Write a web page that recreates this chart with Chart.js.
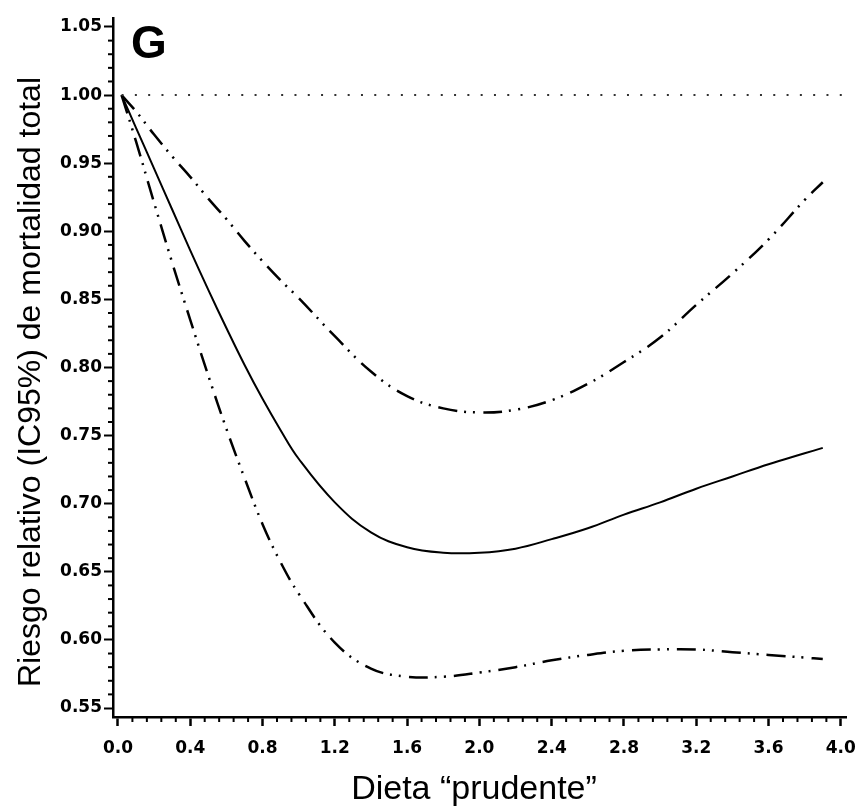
<!DOCTYPE html>
<html>
<head>
<meta charset="utf-8">
<script src="https://cdn.jsdelivr.net/npm/chart.js@4.4.0/dist/chart.umd.min.js"></script>
<style>
  html, body { margin: 0; padding: 0; background: #fff; }
</style>
</head>
<body>
<canvas id="chart" width="868" height="808"></canvas>
<script>
// valores
const dieta = [0.02, 0.1, 0.2, 0.3, 0.4, 0.5, 0.6, 0.7, 0.8, 0.9, 1.0, 1.2, 1.4, 1.6, 1.8,
               2.0, 2.2, 2.4, 2.6, 2.8, 3.0, 3.2, 3.4, 3.6, 3.8, 3.9];
const riesgo = [1.000, 0.976, 0.946, 0.916, 0.886, 0.857, 0.829, 0.802, 0.777, 0.754, 0.733,
                0.701, 0.679, 0.668, 0.664, 0.664, 0.667, 0.674, 0.682, 0.692, 0.701,
                0.711, 0.720, 0.729, 0.737, 0.741];
const icSuperior = [1.000, 0.988, 0.971, 0.955, 0.940, 0.924, 0.909, 0.893, 0.878, 0.864, 0.851,
                    0.823, 0.797, 0.779, 0.770, 0.767, 0.769, 0.776, 0.788, 0.804, 0.822,
                    0.846, 0.869, 0.894, 0.923, 0.936];
const icInferior = [1.000, 0.966, 0.921, 0.877, 0.835, 0.794, 0.755, 0.719, 0.685, 0.657, 0.634,
                    0.598, 0.579, 0.573, 0.573, 0.576, 0.580, 0.585, 0.589, 0.592, 0.593,
                    0.593, 0.591, 0.589, 0.587, 0.586];
const referenciaX = [0.02, 4.02];
const referenciaY = [1.0, 1.0];

const xTicks = [0.0, 0.4, 0.8, 1.2, 1.6, 2.0, 2.4, 2.8, 3.2, 3.6, 4.0];
const yTicks = [0.55, 0.60, 0.65, 0.70, 0.75, 0.80, 0.85, 0.90, 0.95, 1.00, 1.05];
const xMinorStep = 0.08;
const yMinorStep = 0.01;

const toPoints = (xs, ys) => xs.map((x, i) => ({ x: x, y: ys[i] }));
const dashDotDot = [19, 7, 2, 7, 2, 8];

// marcas menores, títulos y la letra del panel
const extrasPlugin = {
    id: 'extras',
    afterDraw(chart) {
        const ctx = chart.ctx;
        const xs = chart.scales.x;
        const ys = chart.scales.y;
        const area = chart.chartArea;
        ctx.save();
        ctx.strokeStyle = '#000';
        ctx.lineWidth = 2;
        // menores eje y
        for (let v = yTicks[0]; v <= yTicks[yTicks.length - 1] + 1e-9; v += yMinorStep) {
            const r = Math.round(v * 100);
            if (r % 5 === 0) continue;
            const py = ys.getPixelForValue(r / 100);
            ctx.beginPath();
            ctx.moveTo(area.left - 5, py);
            ctx.lineTo(area.left, py);
            ctx.stroke();
        }
        // menores eje x
        for (let v = 0; v <= 4.0001; v += xMinorStep) {
            const r = Math.round(v * 100);
            if (r % 40 === 0) continue;
            const px = xs.getPixelForValue(r / 100);
            ctx.beginPath();
            ctx.moveTo(px, area.bottom);
            ctx.lineTo(px, area.bottom + 5);
            ctx.stroke();
        }
        ctx.fillStyle = '#000';
        // letra del panel
        ctx.font = 'bold 46px "Liberation Sans", Arial, sans-serif';
        ctx.textAlign = 'left';
        ctx.textBaseline = 'alphabetic';
        ctx.fillText('G', 131, 58);
        // título eje x
        ctx.font = '34px "Liberation Sans", Arial, sans-serif';
        ctx.textAlign = 'center';
        ctx.fillText('Dieta \u201Cprudente\u201D', 474, 799);
        // título eje y
        ctx.font = '32px "Liberation Sans", Arial, sans-serif';
        ctx.translate(40, 382);
        ctx.rotate(-Math.PI / 2);
        ctx.fillText('Riesgo relativo (IC95%) de mortalidad total', 0, 0);
        ctx.restore();
    }
};

const tickFont = { family: '"DejaVu Sans", sans-serif', size: 17, weight: 'bold' };

new Chart(document.getElementById('chart'), {
    type: 'line',
    data: {
        datasets: [
            {
                label: 'Referencia',
                data: toPoints(referenciaX, referenciaY),
                borderColor: '#333',
                borderWidth: 2,
                borderDash: [2, 11.3],
                pointRadius: 0
            },
            {
                label: 'RR',
                data: toPoints(dieta, riesgo),
                borderColor: '#000',
                borderWidth: 2,
                pointRadius: 0,
                tension: 0.4
            },
            {
                label: 'IC95% superior',
                data: toPoints(dieta, icSuperior),
                borderColor: '#000',
                borderWidth: 2.5,
                borderDash: dashDotDot,
                pointRadius: 0,
                tension: 0.4
            },
            {
                label: 'IC95% inferior',
                data: toPoints(dieta, icInferior),
                borderColor: '#000',
                borderWidth: 2.5,
                borderDash: dashDotDot,
                pointRadius: 0,
                tension: 0.4
            }
        ]
    },
    options: {
        responsive: false,
        animation: false,
        layout: { padding: { left: 0, top: 18, right: 13, bottom: 0 } },
        plugins: {
            legend: { display: false },
            tooltip: { enabled: false }
        },
        scales: {
            x: {
                type: 'linear',
                min: -0.0274,
                max: 4.033,
                afterBuildTicks: (scale) => { scale.ticks = xTicks.map(v => ({ value: v })); },
                afterFit: (scale) => { scale.height = 91; },
                border: { display: true, color: '#000', width: 2.5 },
                grid: { drawOnChartArea: false, drawTicks: true, tickLength: 9, tickWidth: 2.5, tickColor: '#000' },
                ticks: {
                    color: '#000',
                    font: tickFont,
                    padding: 12,
                    maxRotation: 0,
                    callback: (v) => v.toFixed(1)
                }
            },
            y: {
                type: 'linear',
                min: 0.5434,
                max: 1.0566,
                afterBuildTicks: (scale) => { scale.ticks = yTicks.map(v => ({ value: v })); },
                afterFit: (scale) => { scale.width = 113; },
                border: { display: true, color: '#000', width: 2.5 },
                grid: { drawOnChartArea: false, drawTicks: true, tickLength: 9, tickWidth: 2, tickColor: '#000' },
                ticks: {
                    color: '#000',
                    font: tickFont,
                    padding: 2,
                    callback: (v) => v.toFixed(2)
                }
            }
        }
    },
    plugins: [extrasPlugin]
});
</script>
</body>
</html>
